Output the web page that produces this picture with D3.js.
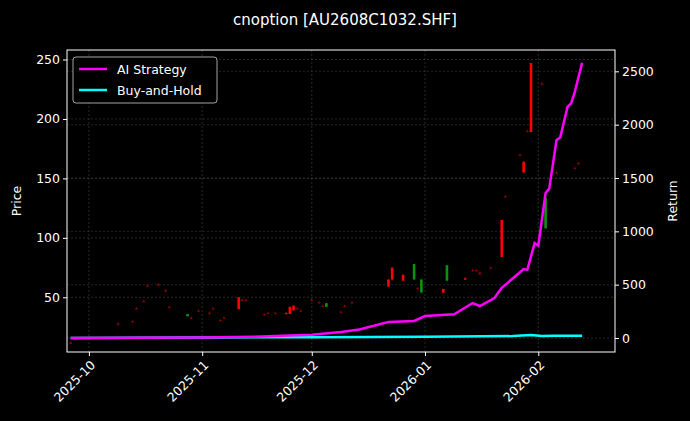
<!DOCTYPE html><html><head><meta charset="utf-8"><script src="https://cdn.jsdelivr.net/npm/d3@7"></script>
<style>body{margin:0;background:#000}text{font-family:"DejaVu Sans",sans-serif}</style></head><body><svg id="c" width="690" height="421"></svg><script>
const title="cnoption [AU2608C1032.SHF]";
const cDates=["2025-09-26","2025-10-09","2025-10-13","2025-10-14","2025-10-16","2025-10-17","2025-10-20","2025-10-22","2025-10-23","2025-10-28","2025-10-29","2025-10-31","2025-11-03","2025-11-04","2025-11-06","2025-11-07","2025-11-11","2025-11-12","2025-11-13","2025-11-18","2025-11-19","2025-11-21","2025-11-24","2025-11-25","2025-11-26","2025-11-27","2025-11-28","2025-12-01","2025-12-03","2025-12-04","2025-12-05","2025-12-09","2025-12-10","2025-12-12","2025-12-22","2025-12-23","2025-12-26","2025-12-29","2025-12-30","2025-12-31","2026-01-06","2026-01-07","2026-01-12","2026-01-14","2026-01-15","2026-01-16","2026-01-19","2026-01-22","2026-01-23","2026-01-27","2026-01-28","2026-01-29","2026-01-30","2026-02-02","2026-02-03","2026-02-06","2026-02-11","2026-02-12"];
const cOpen =[12,28,30,41,47,60,61,56,42,36,33,39,37,41,31,33,40,48,48,36,37,37,37,36,39,41,39,48,46,43,45,38,43,46,59,65,64,78,58,65,54,77,66,73,73,69,75,84,135,170,155,190,189,230,134,155,159,163];
const cHigh =[13,29,31,42,48,61,62,57,43,36,34,40,38,42,32,34,50,49,49,37,38,38,37,42,43,42,40,49,47,44,45,39,44,47,65,75,69,78,59,65,57,77,67,74,74,71,76,115,136,171,164,191,247,231,134,156,160,164];
const cLow  =[11,27,29,40,46,59,60,55,41,34,32,38,36,40,30,32,40,47,47,35,36,36,37,36,39,40,38,47,45,42,42,37,42,45,59,64,64,65,54,54,54,64,66,72,72,69,74,84,134,169,155,189,189,229,108,154,158,162];
const cClose=[12,28,30,41,47,60,61,56,42,34,33,39,37,41,31,33,50,48,48,36,37,37,37,42,43,41,39,48,46,43,42,38,43,46,65,75,69,65,58,54,57,64,66,73,73,71,75,115,135,170,164,190,247,230,108,155,159,163];
const cFaint=[1,1,1,1,1,1,1,1,1,0,1,1,1,1,1,1,0,1,1,1,1,1,0,0,0,1,1,1,1,1,0,1,1,1,0,0,0,0,1,0,0,0,0,1,1,1,1,0,1,1,0,1,0,1,0,1,1,1];
const sDates=["2025-09-26","2025-10-15","2025-11-01","2025-11-15","2025-12-01","2025-12-09","2025-12-14","2025-12-22","2025-12-29","2026-01-01","2026-01-09","2026-01-14","2026-01-16","2026-01-20","2026-01-22","2026-01-28","2026-01-29","2026-01-31","2026-02-01","2026-02-03","2026-02-04","2026-02-06","2026-02-07","2026-02-09","2026-02-10","2026-02-11","2026-02-13"];
const sVals=[0,2,5,12,30,56,80,150,160,206,222,328,300,375,470,647,639,890,865,1360,1400,1857,1880,2167,2200,2308,2580];
const bDates=["2025-09-26","2025-11-01","2025-12-01","2026-01-01","2026-01-25","2026-01-30","2026-02-02","2026-02-05","2026-02-13"];
const bVals=[0,5,8,12,18,28,18,22,22];
const leftTicks=[50,100,150,200,250], rightTicks=[0,500,1000,1500,2000,2500];
const xTicks=["2025-10-01","2025-11-01","2025-12-01","2026-01-01","2026-02-01"];

const P=d3.timeParse("%Y-%m-%d");
const svg=d3.select("#c"); const L=67,R=615,T=50,B=352;
svg.append("rect").attr("width",690).attr("height",421).attr("fill","#000");
const x=d3.scaleTime().domain([P("2025-09-25"),P("2026-02-22")]).range([L,R]);
const y=d3.scaleLinear().domain([4,258]).range([B,T]);
const y2=d3.scaleLinear().domain([-131,2700]).range([B,T]);
const g=svg.append("g");
xTicks.forEach(t=>g.append("line").attr("x1",x(P(t))).attr("x2",x(P(t))).attr("y1",T).attr("y2",B).attr("stroke","#444").attr("stroke-dasharray","2,2").attr("stroke-width",0.6));
leftTicks.forEach(t=>g.append("line").attr("x1",L).attr("x2",R).attr("y1",y(t)).attr("y2",y(t)).attr("stroke","#444").attr("stroke-dasharray","2,2").attr("stroke-width",0.6));
rightTicks.forEach(t=>g.append("line").attr("x1",L).attr("x2",R).attr("y1",y2(t)).attr("y2",y2(t)).attr("stroke","#3a3a3a").attr("stroke-dasharray","2,2").attr("stroke-width",0.6));
cDates.forEach((d,i)=>{const cx=x(P(d)),up=cClose[i]>=cOpen[i];const col=up?"#ff0000":"#109010";const op=cFaint[i]?0.45:1;
 g.append("line").attr("x1",cx).attr("x2",cx).attr("y1",y(cHigh[i])).attr("y2",y(cLow[i])).attr("stroke",col).attr("stroke-width",0.8).attr("opacity",op);
 const y0=y(Math.max(cOpen[i],cClose[i])),h=Math.max(1.5,Math.abs(y(cOpen[i])-y(cClose[i])));
 g.append("rect").attr("x",cx-1.3).attr("width",2.6).attr("y",y0).attr("height",h).attr("fill",col).attr("opacity",op);});
const ln=(ys)=>d3.line().x(d=>x(d[0])).y(d=>ys(d[1]));
g.append("path").datum(bDates.map((d,i)=>[P(d),bVals[i]])).attr("d",ln(y2)).attr("fill","none").attr("stroke","#00ffff").attr("stroke-width",2.5);
g.append("path").datum(sDates.map((d,i)=>[P(d),sVals[i]])).attr("d",ln(y2)).attr("fill","none").attr("stroke","#ff00ff").attr("stroke-width",2.5);
const ax=svg.append("g").attr("transform",`translate(0,${B})`).call(d3.axisBottom(x).tickValues(xTicks.map(P)).tickFormat(d3.timeFormat("%Y-%m")).tickSize(4));
ax.selectAll("text").attr("transform","rotate(-45)").attr("text-anchor","end").attr("dx","-0.4em").attr("dy","0.6em");
const ay=svg.append("g").attr("transform",`translate(${L},0)`).call(d3.axisLeft(y).tickValues(leftTicks).tickSize(4));
const ay2=svg.append("g").attr("transform",`translate(${R},0)`).call(d3.axisRight(y2).tickValues(rightTicks).tickFormat(d3.format("d")).tickSize(4));
[ax,ay,ay2].forEach(a=>{a.select(".domain").remove();a.selectAll("line").attr("stroke","#fff");a.selectAll("text").attr("fill","#fff").attr("font-size",12.5).attr("font-family","DejaVu Sans");});
svg.append("rect").attr("x",L).attr("y",T).attr("width",R-L).attr("height",B-T).attr("fill","none").attr("stroke","#fff").attr("stroke-width",1);
svg.append("text").attr("x",345).attr("y",25).attr("text-anchor","middle").attr("fill","#fff").attr("font-size",15).text(title);
svg.append("text").attr("transform","translate(21,201) rotate(-90)").attr("text-anchor","middle").attr("fill","#fff").attr("font-size",12.5).text("Price");
svg.append("text").attr("transform","translate(677,201) rotate(-90)").attr("text-anchor","middle").attr("fill","#fff").attr("font-size",12.5).text("Return");
const lg=svg.append("g").attr("transform","translate(73,57)");
lg.append("rect").attr("width",144).attr("height",46).attr("rx",3).attr("fill","#000").attr("stroke","#ccc").attr("stroke-width",0.8);
[["AI Strategy","#ff00ff"],["Buy-and-Hold","#00ffff"]].forEach((d,i)=>{lg.append("line").attr("x1",6).attr("x2",34).attr("y1",12+i*21).attr("y2",12+i*21).attr("stroke",d[1]).attr("stroke-width",2.5);
 lg.append("text").attr("x",44).attr("y",16.5+i*21).attr("fill","#fff").attr("font-size",12.5).text(d[0]);});
</script></body></html>
